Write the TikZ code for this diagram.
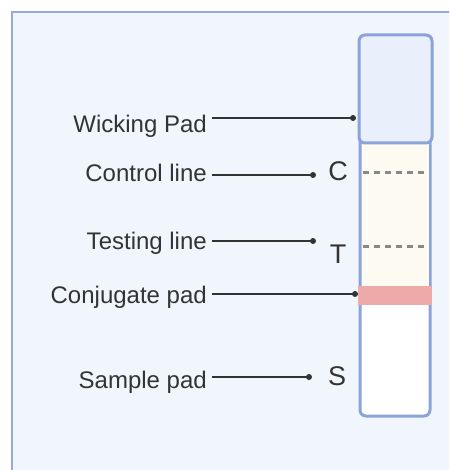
\documentclass[tikz,border=0pt]{standalone}
\usepackage{fontspec}
\setmainfont{Liberation Sans}
\usetikzlibrary{calc,positioning}

\definecolor{framecol}{HTML}{93AADB}
\definecolor{bgcol}{HTML}{F1F6FD}
\definecolor{stripcol}{HTML}{8AA3D8}
\definecolor{wickcol}{HTML}{EAF0FB}
\definecolor{creamcol}{HTML}{FDFAF1}
\definecolor{conjcol}{HTML}{EEA9A9}
\definecolor{inkcol}{HTML}{333333}
\definecolor{dashcol}{HTML}{888888}

\begin{document}
\begin{tikzpicture}[x=1pt,y=-1pt,
    lbl/.style={anchor=base east,inner xsep=5pt,inner ysep=0pt,text=inkcol,font=\fontsize{24}{28}\selectfont},
    letter/.style={anchor=base,inner sep=0pt,text=inkcol,font=\fontsize{27}{30}\selectfont},
    pin/.style={line width=2pt,inkcol}]
    \path[use as bounding box,clip] (0,0) rectangle (449,470);

    % panel
    \draw[framecol,line width=2.5pt,fill=bgcol] (12,12) rectangle (480,500);

    % strip body, reaction zone and conjugate pad
    \draw[stripcol,line width=3pt,fill=white,rounded corners=6pt] (360,130) rectangle (430,416);
    \fill[creamcol] (361.5,143) rectangle (428.5,286);
    \fill[conjcol] (358,286) rectangle (432,305);

    % wicking pad on top
    \draw[stripcol,line width=3pt,fill=wickcol,rounded corners=6pt] (359,35) rectangle (432,143);

    % control and test lines
    \foreach \y in {173,246} {
        \draw[dashcol,line width=3pt,dash pattern=on 6pt off 5pt] (363,\y) coordinate (s\y) -- (428,\y) coordinate (e\y);
    }

    % labels with pointers
    \foreach \i/\txt/\by/\px/\py in {0/Wicking Pad/133/353/118, 1/Control line/182/313/175, 2/Testing line/249/313/241, 3/Conjugate pad/303/355/294, 4/Sample pad/388/309/377} {
        \node[lbl] (l\i) at (212,\by) {\txt};
        \coordinate (p\i) at (\px,\py);
        \draw[pin] (l\i.east |- p\i) -- (p\i);
        \fill[inkcol] (p\i) circle (3pt);
    }

    \node[letter] (cl) at (338,181) {C};
    \node[letter] (tl) at (338,263) {T};
    \node[letter] (sl) at (337,385) {S};
\end{tikzpicture}
\end{document}
